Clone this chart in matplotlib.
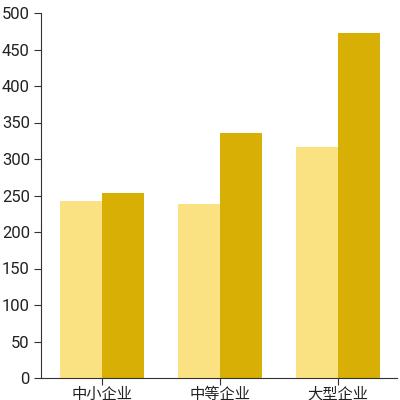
import matplotlib
matplotlib.use("Agg")
import matplotlib.pyplot as plt
import numpy as np

plt.rcParams['font.family'] = ['Roboto', 'Noto Sans CJK SC', 'DejaVu Sans']

categories = ['中小企业', '中等企业', '大型企业']
series_a = [242, 238, 316]
series_b = [253, 335, 473]
yticks = [0, 50, 100, 150, 200, 250, 300, 350, 400, 450, 500]

fig = plt.figure(figsize=(4, 4), dpi=100)
ax = fig.add_axes([0.1025, 0.055, 0.89, 0.9125])

x = np.arange(len(categories))
w = 0.356
ax.bar(x - w / 2, series_a, width=w, color='#FAE282')
ax.bar(x + w / 2, series_b, width=w, color='#D7AF05')

ax.set_xlim(-0.52, 2.5)
ax.set_ylim(0, 500)
ax.set_yticks(yticks)
ax.set_xticks(x)
ax.set_xticklabels(categories, family=['Noto Sans CJK SC', 'DejaVu Sans'])
ax.tick_params(labelsize=12, length=5, color='#333333', labelcolor='#222222')
ax.tick_params(axis='x', labelsize=11, pad=0.5)
ax.tick_params(axis='y', pad=3)
ax.spines['top'].set_visible(False)
ax.spines['right'].set_visible(False)
ax.spines['left'].set_color('#333333')
ax.spines['bottom'].set_color('#333333')

fig.savefig('out.png', dpi=100)
